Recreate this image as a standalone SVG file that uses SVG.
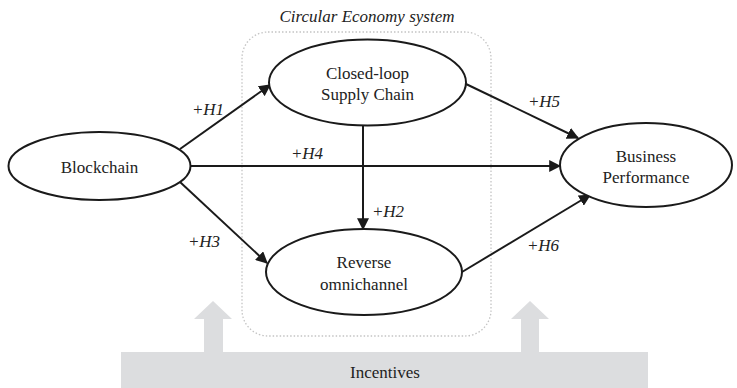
<svg xmlns="http://www.w3.org/2000/svg" width="737" height="388" viewBox="0 0 737 388">
<defs>
<style>
.node{fill:#fff;stroke:#1a1a1a;stroke-width:2}
.i{font-style:italic}
.c{stroke:#1a1a1a;stroke-width:2;fill:none;marker-end:url(#ah)}
</style>
<marker id="ah" viewBox="0 0 10 10" refX="9" refY="5" markerWidth="6" markerHeight="6" orient="auto" markerUnits="strokeWidth">
<path d="M0,0 L10,5 L0,10 z" fill="#1a1a1a"/>
</marker>
</defs>
<rect width="737" height="388" fill="#fff"/>
<g font-family="Liberation Serif, DejaVu Serif, serif" font-size="17" fill="#222" text-anchor="middle">
<g id="incentives">
<rect x="121" y="352" width="527" height="36" fill="#dcdddf"/>
<polygon points="204,352 204,319 194,319 213,301 232,319 223,319 223,352" fill="#dcdddf"/>
<polygon points="521,352 521,319 511,319 530,301 549,319 539,319 539,352" fill="#dcdddf"/>
<text x="385" y="378">Incentives</text>
</g>
<g id="ce-system">
<rect x="242" y="32" width="249" height="304" rx="26" fill="none" stroke="#c4c4c4" stroke-width="1.3" stroke-dasharray="1.5 2"/>
<text class="i" x="367" y="22">Circular Economy system</text>
</g>
<g id="connectors">
<line class="c" x1="180" y1="149" x2="270" y2="85"/>
<line class="c" x1="191" y1="166" x2="560" y2="166"/>
<line class="c" x1="180" y1="182" x2="267" y2="263"/>
<line class="c" x1="363" y1="126" x2="363" y2="229"/>
<line class="c" x1="466" y1="84" x2="578" y2="138"/>
<line class="c" x1="462" y1="272" x2="590" y2="195"/>
<text class="i" x="208" y="115">+H1</text>
<text class="i" x="307" y="159">+H4</text>
<text class="i" x="204" y="247">+H3</text>
<text class="i" x="388" y="217">+H2</text>
<text class="i" x="544" y="107">+H5</text>
<text class="i" x="543" y="251">+H6</text>
</g>
<g id="blockchain">
<ellipse class="node" cx="99.5" cy="166" rx="91" ry="34"/>
<text x="99.5" y="173">Blockchain</text>
</g>
<g id="closed-loop">
<ellipse class="node" cx="367.5" cy="82.5" rx="98.5" ry="43"/>
<text x="367.5" y="79">Closed-loop</text>
<text x="367.5" y="100">Supply Chain</text>
</g>
<g id="reverse">
<ellipse class="node" cx="364" cy="272" rx="98" ry="43"/>
<text x="364" y="268">Reverse</text>
<text x="364" y="290">omnichannel</text>
</g>
<g id="business">
<ellipse class="node" cx="646" cy="165" rx="86" ry="42"/>
<text x="646" y="162">Business</text>
<text x="646" y="183">Performance</text>
</g>
</g>
</svg>
